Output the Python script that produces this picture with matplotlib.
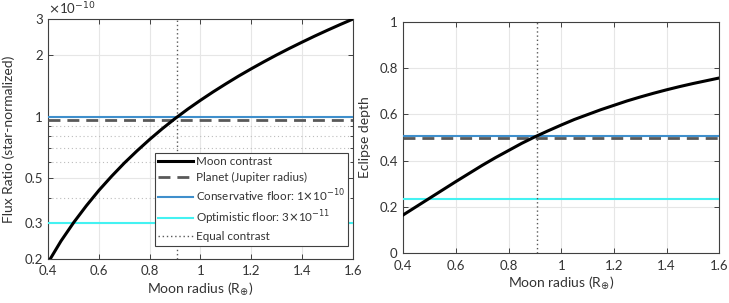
import matplotlib
matplotlib.use("Agg")
import matplotlib.pyplot as plt
from matplotlib.ticker import FixedLocator, NullFormatter

plt.rcParams['font.family'] = ['Lato', 'DejaVu Sans']
plt.rcParams['mathtext.fontset'] = 'dejavusans'

# data
moon_radius = [0.40, 0.45, 0.50, 0.55, 0.60, 0.65, 0.70, 0.75, 0.80, 0.85, 0.90, 0.95, 1.00,
               1.05, 1.10, 1.15, 1.20, 1.25, 1.30, 1.35, 1.40, 1.45, 1.50, 1.55, 1.60]
moon_flux = [0.193, 0.245, 0.302, 0.365, 0.435, 0.510, 0.592, 0.679, 0.773, 0.873, 0.978, 1.088, 1.202,
             1.322, 1.447, 1.579, 1.715, 1.857, 2.005, 2.158, 2.316, 2.481, 2.650, 2.825, 3.005]  # x1e-10
eclipse_depth = [0.166, 0.202, 0.238, 0.274, 0.310, 0.345, 0.380, 0.413, 0.444, 0.475, 0.503, 0.529, 0.554,
                 0.578, 0.599, 0.620, 0.639, 0.658, 0.675, 0.691, 0.706, 0.720, 0.733, 0.745, 0.757]
planet_flux = 0.967
conservative_floor = 1.0
optimistic_floor = 0.3
planet_depth = 0.497
conservative_depth = 0.507
optimistic_depth = 0.236
equal_radius = 0.907

left_yticks = [0.2, 0.3, 0.5, 1, 2, 3]
left_yticklabels = ["0.2", "0.3", "0.5", "1", "2", "3"]
left_yminor = [0.4, 0.6, 0.7, 0.8, 0.9]
xticks = [0.4, 0.6, 0.8, 1.0, 1.2, 1.4, 1.6]
xticklabels = ["0.4", "0.6", "0.8", "1", "1.2", "1.4", "1.6"]
right_yticks = [0, 0.2, 0.4, 0.6, 0.8, 1]
right_yticklabels = ["0", "0.2", "0.4", "0.6", "0.8", "1"]

TXT = "#333333"
AXC = "#404040"
BLUE = "#3f8fcc"
CYAN = "#44f2f2"
GREY = "#595959"

fig = plt.figure(figsize=(7.29, 3.03), dpi=100)
W, H = 729, 303
ax1 = fig.add_axes([48.3 / W, 1 - 259 / H, (352.7 - 48.3) / W, (259 - 19.3) / H])
ax2 = fig.add_axes([403.3 / W, 1 - 253.3 / H, (719.3 - 403.3) / W, (253.3 - 21.7) / H])


def style_axes(ax):
    for sp in ax.spines.values():
        sp.set_color(AXC)
        sp.set_linewidth(0.8)
    ax.tick_params(which='both', direction='in', top=True, right=True, colors=AXC,
                   labelcolor=TXT, labelsize=9.5, width=0.7)
    ax.tick_params(which='major', length=3.5)
    ax.tick_params(which='minor', length=2)
    ax.tick_params(axis='x', pad=4.5)
    ax.tick_params(axis='y', pad=4)
    ax.set_xlim(0.4, 1.6)
    ax.set_xticks(xticks)
    ax.set_xticklabels(xticklabels)
    ax.grid(True, which='major', color='#e6e6e6', lw=0.8)
    ax.set_axisbelow(True)
    ax.set_xlabel(r"Moon radius (R$_{\oplus}$)", fontsize=10, color=TXT, labelpad=2)


# left panel: flux ratio
ax1.set_yscale('log')
ax1.set_ylim(0.2, 3)
style_axes(ax1)
ax1.yaxis.set_major_locator(FixedLocator(left_yticks))
ax1.set_yticklabels(left_yticklabels)
ax1.yaxis.set_minor_locator(FixedLocator(left_yminor))
ax1.yaxis.set_minor_formatter(NullFormatter())
ax1.grid(True, which='minor', axis='y', color='#bdbdbd', lw=0.8, ls=(0, (1, 2.5)))

ax1.plot(moon_radius, moon_flux, color='black', lw=2.2, label='Moon contrast', zorder=5)
ax1.axhline(planet_flux, color=GREY, lw=2, dashes=(4.3, 2.5), label='Planet (Jupiter radius)', zorder=4)
ax1.axhline(conservative_floor, color=BLUE, lw=1.5, label=r'Conservative floor: 1$\times$10$^{-10}$', zorder=3)
ax1.axhline(optimistic_floor, color=CYAN, lw=1.5, label=r'Optimistic floor: 3$\times$10$^{-11}$', zorder=3)
ax1.axvline(equal_radius, color=GREY, lw=1, ls=(0, (1, 2)), label='Equal contrast', zorder=3)
ax1.set_ylabel("Flux Ratio (star-normalized)", fontsize=10, color=TXT, labelpad=7)
ax1.text(0.0, 1.008, r"$\times$10$^{-10}$", transform=ax1.transAxes, fontsize=9.5,
         color=TXT, ha='left', va='bottom')

leg = ax1.legend(loc='lower right', bbox_to_anchor=(0.985, 0.055), fontsize=8.4,
                 handlelength=3.0, handletextpad=0.2, borderpad=0.3, labelspacing=0.38,
                 fancybox=False, framealpha=1, edgecolor=AXC, borderaxespad=0)
leg.get_frame().set_linewidth(0.8)
for t in leg.get_texts():
    t.set_color(TXT)

# right panel: eclipse depth
ax2.set_ylim(0, 1)
style_axes(ax2)
ax2.set_yticks(right_yticks)
ax2.set_yticklabels(right_yticklabels)
ax2.plot(moon_radius, eclipse_depth, color='black', lw=2.2, zorder=5)
ax2.axhline(conservative_depth, color=BLUE, lw=1.5, zorder=3)
ax2.axhline(planet_depth, color=GREY, lw=2, dashes=(4.3, 2.5), zorder=4)
ax2.axhline(optimistic_depth, color=CYAN, lw=1.5, zorder=3)
ax2.axvline(equal_radius, color=GREY, lw=1, ls=(0, (1, 2)), zorder=3)
ax2.set_ylabel("Eclipse depth", fontsize=10, color=TXT, labelpad=6)

fig.savefig("out.png", dpi=100)
